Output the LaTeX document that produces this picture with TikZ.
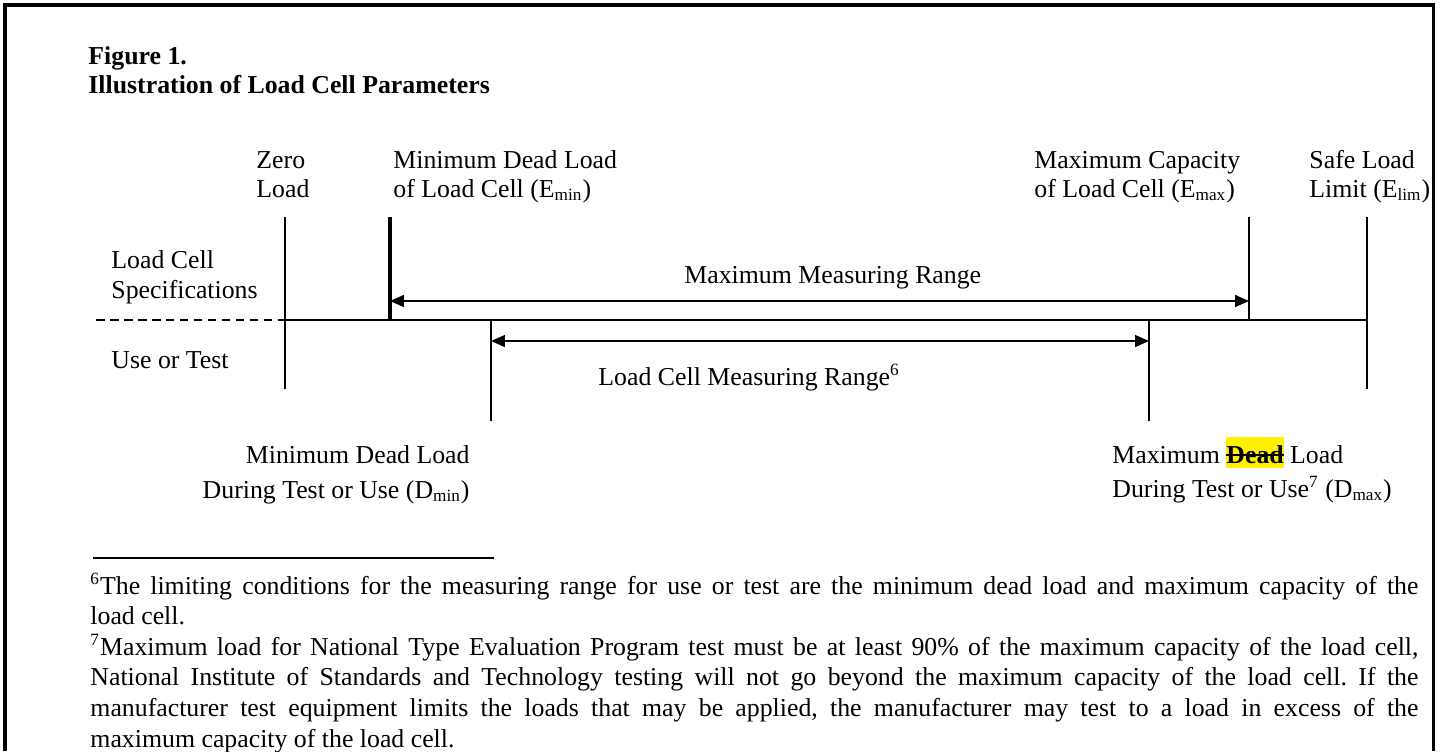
\documentclass[tikz,border=0pt]{standalone}
\usepackage{fontspec}
\setmainfont{Liberation Serif}
\usetikzlibrary{arrows.meta}
\newcommand\mystrike[1]{\setbox0\hbox{#1}\rlap{\rule[0.28em]{\wd0}{0.08em}}\box0}
\frenchspacing
\begin{document}
\begin{tikzpicture}[x=0.465pt,y=-0.465pt,
  lbl/.style={inner sep=0pt, font=\fontsize{12}{14}\selectfont},
  ttl/.style={inner sep=0pt, font=\fontsize{12}{14}\selectfont\bfseries},
  frame/.style={line width=1.4pt},
  tick/.style={line width=0.9pt},
  thicktick/.style={line width=1.4pt},
  axis/.style={line width=0.9pt},
  rng/.style={line width=0.9pt, {Triangle[length=6.5pt,width=5.5pt]}-{Triangle[length=6.5pt,width=5.5pt]}},
  fnrule/.style={line width=0.5pt}]
\useasboundingbox (0,0) rectangle (1442,751);
% frame
\coordinate (f1) at (5,751); \coordinate (f2) at (5,5);
\coordinate (f3) at (1433,5); \coordinate (f4) at (1433,751);
\draw[frame] (f1) -- (f2) -- (f3) -- (f4);
% title
\node[ttl, anchor=base west] (t1) at (88,64) {Figure 1.};
\node[ttl, anchor=base west] (t2) at (88,93) {Illustration of Load Cell Parameters};
% coordinates of ticks
\coordinate (zt) at (285,217); \coordinate (zb) at (285,389);
\coordinate (et) at (390,217); \coordinate (eb) at (390,320);
\coordinate (xt) at (1249,217); \coordinate (xb) at (1249,320);
\coordinate (lt) at (1367,217); \coordinate (lb) at (1367,389);
\coordinate (dt) at (491,320); \coordinate (db) at (491,421);
\coordinate (mt) at (1149,320); \coordinate (mb) at (1149,421);
\coordinate (z0) at (285,320); \coordinate (l0) at (1367,320);
\coordinate (ds) at (96,320);
\coordinate (a1s) at (390,301); \coordinate (a1e) at (1249,301);
\coordinate (a2s) at (491,341); \coordinate (a2e) at (1149,341);
% lines
\draw[tick] (zt) -- (zb);
\draw[thicktick] (et) -- (eb);
\draw[tick] (xt) -- (xb);
\draw[tick] (lt) -- (lb);
\draw[tick] (dt) -- (db);
\draw[tick] (mt) -- (mb);
\draw[axis] (z0) -- (l0);
\draw[axis, dash pattern=on 4pt off 2.5pt] (ds) -- (z0);
\draw[rng] (a1s) -- (a1e);
\draw[rng] (a2s) -- (a2e);
% top labels
\node[lbl, anchor=base west] (zl1) at (256,168) {Zero};
\node[lbl, anchor=base west] (zl2) at (256,197) {Load};
\node[lbl, anchor=base west] (el1) at (393,168) {Minimum Dead Load};
\node[lbl, anchor=base west] (el2) at (393,197) {of Load Cell (E\textsubscript{min})};
\node[lbl, anchor=base west] (xl1) at (1034,168) {Maximum Capacity};
\node[lbl, anchor=base west] (xl2) at (1034,197) {of Load Cell (E\textsubscript{max})};
\node[lbl, anchor=base west] (ll1) at (1309,168) {Safe Load};
\node[lbl, anchor=base west] (ll2) at (1309,197) {Limit (E\textsubscript{lim})};
% side labels
\node[lbl, anchor=base west] (s1) at (111,268) {Load Cell};
\node[lbl, anchor=base west] (s2) at (111,298) {Specifications};
\node[lbl, anchor=base west] (s3) at (111,368) {Use or Test};
% range labels
\node[lbl, anchor=base west] (r1) at (684,283) {Maximum Measuring Range};
\node[lbl, anchor=base west] (r2) at (598,385) {Load Cell Measuring Range\textsuperscript{6}};
% bottom labels
\node[lbl, anchor=base east] (dl1) at (470,463) {Minimum Dead Load};
\node[lbl, anchor=base east] (dl2) at (470,498) {During Test or Use (D\textsubscript{min})};
\node[lbl, anchor=base west] (ml1) at (1112,463) {Maximum {\setlength\fboxsep{0pt}\colorbox{yellow}{\rule[-2.3pt]{0pt}{14.3pt}\mystrike{\textbf{Dead}}}} Load};
\node[lbl, anchor=base west] (ml2) at (1112,497) {During Test or Use\textsuperscript{7} (D\textsubscript{max})};
% footnotes
\coordinate (fr1) at (93,558); \coordinate (fr2) at (494,558);
\draw[fnrule] (fr1) -- (fr2);
\node[inner sep=0pt, anchor=base west] (fn) at (90,594) {\parbox[t]{617.5pt}{\fontsize{12}{14.23}\selectfont\frenchspacing
\textsuperscript{6}The limiting conditions for the measuring range for use or test are the minimum dead load and maximum capacity of the\linebreak load cell.\par
\textsuperscript{7}Maximum load for National Type Evaluation Program test must be at least 90\% of the maximum capacity of the load cell,\linebreak National Institute of Standards and Technology testing will not go beyond the maximum capacity of the load cell. If the\linebreak manufacturer test equipment limits the loads that may be applied, the manufacturer may test to a load in excess of the\linebreak maximum capacity of the load cell.}};
\end{tikzpicture}
\end{document}
